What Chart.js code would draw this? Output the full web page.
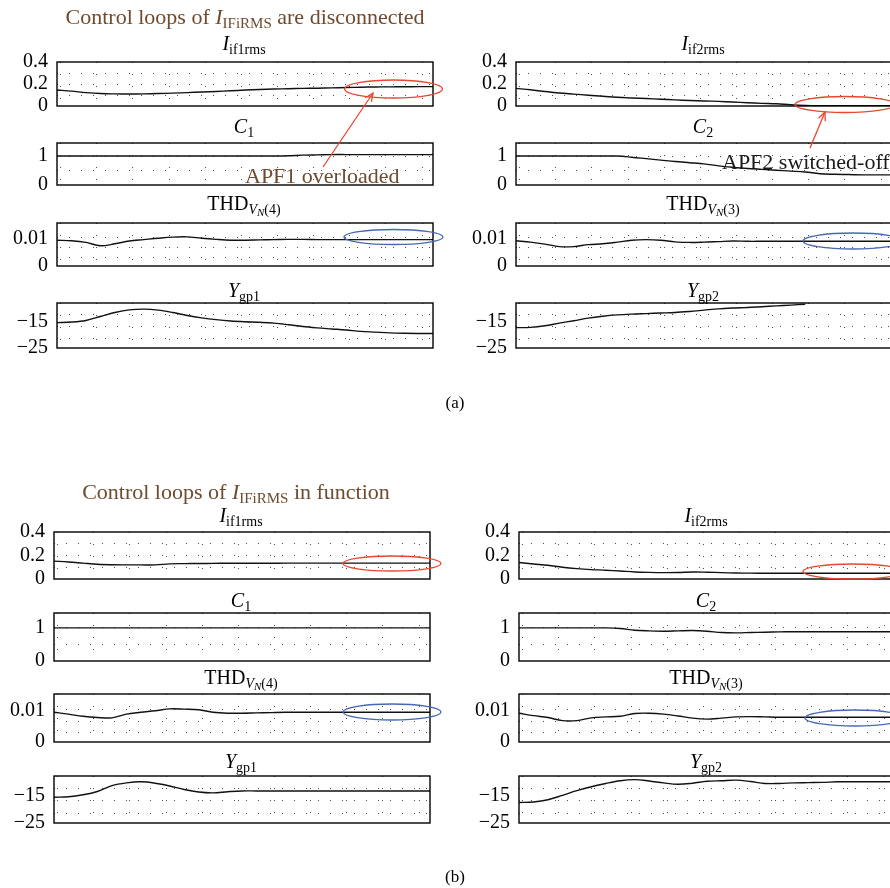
<!DOCTYPE html>
<html>
<head>
<meta charset="utf-8">
<script src="https://cdn.jsdelivr.net/npm/chart.js@4.4.0/dist/chart.umd.min.js"></script>
<style>
  html, body { margin: 0; padding: 0; background: #fff; }
  #page { position: relative; width: 890px; height: 888px; overflow: hidden; }
  .box { position: absolute; }
  #notes { position: absolute; left: 0; top: 0; z-index: 5; }
  #notes text { font-family: "Liberation Serif", "Times New Roman", serif; }
</style>
</head>
<body>
<div id="page"></div>
<script>
// Sample times (same for every trace) and the vertical grid positions.
const times = [0, 0.4, 0.8, 1.2, 1.6, 2.0, 2.4, 2.8, 3.2, 3.6, 4.0, 4.4, 4.8, 5.2,
  5.6, 6.0, 6.4, 6.8, 7.2, 7.6, 8.0, 8.4, 8.8, 9.2, 9.6, 10.0, 10.4];
const gridX = [0.1, 1.1, 2.1, 3.1, 4.1, 5.1, 6.1, 7.1, 8.1, 9.1, 10.1];

// (a) control loops disconnected
const a_if1rms = [0.145, 0.135, 0.122, 0.113, 0.110, 0.109, 0.110, 0.113, 0.117, 0.122, 0.127, 0.132, 0.138, 0.145,
  0.150, 0.154, 0.157, 0.160, 0.162, 0.165, 0.168, 0.171, 0.173, 0.174, 0.175, 0.176, 0.176];
const a_c1 = [1, 1, 1, 1, 1, 1, 1, 1, 1, 1, 1, 1, 1, 1,
  1, 1, 1.01, 1.03, 1.04, 1.05, 1.05, 1.05, 1.05, 1.05, 1.05, 1.05, 1.05];
const a_thd4 = [0.0093, 0.0091, 0.0085, 0.0073, 0.0080, 0.0090, 0.0095, 0.0100, 0.0104, 0.0105, 0.0100, 0.0096, 0.0093, 0.0093,
  0.0094, 0.0095, 0.0096, 0.0096, 0.0095, 0.0095, 0.0095, 0.0095, 0.0095, 0.0095, 0.0095, 0.0095, 0.0095];
const a_ygp1 = [-15.4, -15.2, -14.6, -13.1, -11.6, -10.6, -10.3, -10.7, -11.6, -12.7, -13.6, -14.3, -14.8, -15.1,
  -15.3, -15.6, -16.2, -16.9, -17.4, -17.8, -18.2, -18.7, -19.0, -19.3, -19.45, -19.5, -19.5];
const a_if2rms = [0.160, 0.148, 0.132, 0.118, 0.108, 0.098, 0.088, 0.079, 0.073, 0.068, 0.062, 0.056, 0.050, 0.046,
  0.042, 0.036, 0.030, 0.024, 0.020, 0.012, 0.006, 0.003, 0.002, 0.002, 0.002, 0.002, 0.002];
const a_c2 = [1, 1, 1, 1, 1, 1, 1, 1, 0.96, 0.91, 0.86, 0.81, 0.77, 0.73,
  0.66, 0.61, 0.57, 0.54, 0.51, 0.48, 0.45, 0.39, 0.37, 0.36, 0.35, 0.35, 0.35];
const a_thd3 = [0.0091, 0.0086, 0.0079, 0.0070, 0.0070, 0.0077, 0.0080, 0.0086, 0.0093, 0.0095, 0.0093, 0.0087, 0.0085, 0.0086,
  0.0088, 0.0090, 0.0089, 0.0089, 0.0089, 0.0089, 0.0089, 0.0089, 0.0089, 0.0089, 0.0089, 0.0089, 0.0089];
const a_ygp2 = [-17.3, -17.2, -16.6, -15.6, -14.7, -13.7, -13.0, -12.5, -12.2, -12.0, -11.8, -11.6, -11.2, -10.7,
  -10.2, -9.9, -9.7, -9.4, -9.1, -8.8, -8.45, null, null, null, null, null, null];

// (b) control loops in function
const b_if1rms = [0.152, 0.145, 0.135, 0.125, 0.121, 0.120, 0.120, 0.120, 0.129, 0.131, 0.132, 0.133, 0.134, 0.134,
  0.134, 0.134, 0.135, 0.135, 0.135, 0.135, 0.135, 0.135, 0.135, 0.135, 0.135, 0.135, 0.135];
const b_c1 = [1, 1, 1, 1, 1, 1, 1, 1, 1, 1, 1, 1, 1, 1,
  1, 1, 1, 1, 1, 1, 1, 1, 1, 1, 1, 1, 1];
const b_thd4 = [0.0096, 0.0090, 0.0083, 0.0079, 0.0078, 0.0090, 0.0096, 0.0101, 0.0107, 0.0106, 0.0104, 0.0096, 0.0093, 0.0093,
  0.0094, 0.0095, 0.0096, 0.0096, 0.0096, 0.0096, 0.0096, 0.0096, 0.0096, 0.0096, 0.0096, 0.0096, 0.0096];
const b_ygp1 = [-15.7, -15.5, -14.8, -13.6, -11.5, -10.5, -10.1, -10.6, -11.6, -12.9, -13.8, -14.1, -13.7, -13.4,
  -13.4, -13.4, -13.4, -13.4, -13.4, -13.4, -13.4, -13.4, -13.4, -13.4, -13.4, -13.4, -13.4];
const b_if2rms = [0.140, 0.128, 0.117, 0.100, 0.088, 0.080, 0.075, 0.068, 0.060, 0.056, 0.054, 0.055, 0.060, 0.058,
  0.054, 0.051, 0.050, 0.049, 0.049, 0.049, 0.049, 0.049, 0.049, 0.049, 0.049, 0.049, 0.049];
const b_c2 = [1, 1, 1, 1, 1, 1, 1, 0.98, 0.93, 0.91, 0.90, 0.91, 0.92, 0.90,
  0.86, 0.85, 0.86, 0.87, 0.88, 0.885, 0.885, 0.885, 0.885, 0.885, 0.885, 0.885, 0.885];
const b_thd3 = [0.0093, 0.0085, 0.0079, 0.0069, 0.0069, 0.0078, 0.0081, 0.0083, 0.0092, 0.0093, 0.0090, 0.0084, 0.0077, 0.0074,
  0.0077, 0.0081, 0.0082, 0.0081, 0.0080, 0.0080, 0.0080, 0.0080, 0.0080, 0.0080, 0.0080, 0.0080, 0.0080];
const b_ygp2 = [-17.6, -17.4, -16.6, -15.0, -13.3, -11.9, -10.7, -9.7, -9.3, -9.8, -10.5, -11.0, -10.6, -9.9,
  -9.7, -9.5, -10.0, -10.7, -10.7, -10.5, -10.4, -10.3, -10.1, -10.1, -10.1, -10.1, -10.1];

// y axis setups: range, labelled ticks, dotted rows
const irmsLabels = [0, 0.2, 0.4], irmsRows = [0.1, 0.2, 0.3];
const cLabels = [0, 1], cRows = [0.5, 1];
const thdLabels = [0, 0.01], thdRows = [0.003, 0.0067, 0.0104];
const ygpLabels = [-25, -15], ygpRows = [-21.5, -17, -12.5];

const axes = {
  irms: { min: 0, max: 0.4, labels: irmsLabels, rows: irmsRows },
  c: { min: 0, max: 1.45, labels: cLabels, rows: cRows },
  thd: { min: 0, max: 0.0155, labels: thdLabels, rows: thdRows },
  ygp: { min: -25, max: -8, labels: ygpLabels, rows: ygpRows },
};

Chart.defaults.font.family = '"Liberation Serif", "Times New Roman", serif';
Chart.defaults.font.size = 20;
Chart.defaults.color = "#000";

// PAD_V must stay above half a label height plus the tick padding,
// otherwise Chart.js shrinks the plot area to make room.
const PAD_L = 60, PAD_R = 14, PAD_V = 26;
const DOT = "rgba(0,0,0,0.7)";

// Solid box round the plot area.
const frame = {
  id: "frame",
  afterDatasetsDraw(chart) {
    const { ctx, chartArea: a } = chart;
    ctx.save();
    ctx.strokeStyle = "#000";
    ctx.lineWidth = 1.4;
    ctx.strokeRect(a.left, a.top, a.right - a.left, a.bottom - a.top);
    ctx.restore();
  },
};

function fmt(v) {
  return String(v).replace("-", "\u2212");
}

function makePanel(box, values, ax) {
  const w = box.x1 - box.x0 + PAD_L + PAD_R;
  const h = box.y1 - box.y0 + 2 * PAD_V;
  const wrap = document.createElement("div");
  wrap.className = "box";
  wrap.style.left = box.x0 - PAD_L + "px";
  wrap.style.top = box.y0 - PAD_V + "px";
  const canvas = document.createElement("canvas");
  canvas.width = w;
  canvas.height = h;
  wrap.appendChild(canvas);
  document.getElementById("page").appendChild(wrap);

  const yTicks = [...new Set([ax.min, ax.max, ...ax.labels, ...ax.rows])].sort((p, q) => p - q);

  return new Chart(canvas, {
    type: "line",
    data: {
      datasets: [{
        data: times.map((t, i) => ({ x: t, y: values[i] })),
        borderColor: "#111",
        borderWidth: 1.4,
        pointRadius: 0,
        tension: 0.35,
        spanGaps: false,
      }],
    },
    options: {
      responsive: false,
      animation: false,
      events: [],
      layout: { padding: { top: PAD_V, bottom: PAD_V, left: 0, right: PAD_R } },
      plugins: { legend: { display: false }, tooltip: { enabled: false } },
      scales: {
        x: {
          type: "linear",
          min: 0,
          max: 10.4,
          afterBuildTicks: (s) => { s.ticks = gridX.map((v) => ({ value: v })); },
          ticks: { display: false },
          grid: { drawTicks: false, color: DOT, lineWidth: 1 },
          border: { display: false, dash: [1, 11] },
        },
        y: {
          type: "linear",
          min: ax.min,
          max: ax.max,
          afterBuildTicks: (s) => { s.ticks = yTicks.map((v) => ({ value: v })); },
          afterFit: (s) => { s.width = PAD_L; },
          ticks: {
            autoSkip: false,
            padding: 9,
            callback: (v) => (ax.labels.includes(v) ? fmt(v) : ""),
          },
          grid: {
            drawTicks: false,
            lineWidth: 1,
            color: (c) => (c.tick && ax.rows.includes(c.tick.value) ? DOT : "transparent"),
          },
          border: { display: false, dash: [1, 11] },
        },
      },
    },
    plugins: [frame],
  });
}

// Panel boxes (pixels) for the two halves of the figure.
const colsA = [[57, 433], [516, 892]], rowsA = [[62, 106], [143, 185], [223, 266], [303, 348]];
const colsB = [[54, 430], [519, 895]], rowsB = [[532, 579], [613, 661], [694, 742], [776, 823]];
const kinds = ["irms", "c", "thd", "ygp"];

const seriesA = [[a_if1rms, a_c1, a_thd4, a_ygp1], [a_if2rms, a_c2, a_thd3, a_ygp2]];
const seriesB = [[b_if1rms, b_c1, b_thd4, b_ygp1], [b_if2rms, b_c2, b_thd3, b_ygp2]];

[[colsA, rowsA, seriesA], [colsB, rowsB, seriesB]].forEach(([cols, rows, series]) => {
  cols.forEach((col, ci) => {
    rows.forEach((row, ri) => {
      makePanel({ x0: col[0], x1: col[1], y0: row[0], y1: row[1] }, series[ci][ri], axes[kinds[ri]]);
    });
  });
});

// Titles, captions and the hand drawn marks, in one SVG on top.
const NS = "http://www.w3.org/2000/svg";
const svg = document.createElementNS(NS, "svg");
svg.setAttribute("id", "notes");
svg.setAttribute("width", 890);
svg.setAttribute("height", 888);
document.getElementById("page").appendChild(svg);

function el(name, attrs, parent) {
  const e = document.createElementNS(NS, name);
  for (const k in attrs) e.setAttribute(k, attrs[k]);
  (parent || svg).appendChild(e);
  return e;
}

// parts: [text, {size, dy, italic}]
function label(x, y, size, fill, parts, anchor) {
  const t = el("text", { x, y, "font-size": size, fill, "text-anchor": anchor || "middle" });
  parts.forEach(([s, o]) => {
    const ts = el("tspan", {}, t);
    if (o && o.size) ts.setAttribute("font-size", o.size);
    if (o && o.dy) ts.setAttribute("dy", o.dy);
    if (o && o.italic) ts.setAttribute("font-style", "italic");
    ts.textContent = s;
  });
  return t;
}

const BROWN = "#6e4a2e", RED = "#e8472f", BLUE = "#4568b3";

function titleParts(kind, n) {
  if (kind === "irms") return [["I", { italic: true }], ["if" + n + "rms", { size: 14, dy: 4 }]];
  if (kind === "c") return [["C", { italic: true }], [String(n), { size: 14, dy: 4 }]];
  if (kind === "thd") {
    const k = n === 1 ? "4" : "3";
    return [["THD", {}], ["V", { size: 14, dy: 4, italic: true }], ["N", { size: 11, dy: 2, italic: true }], ["(" + k + ")", { size: 14, dy: -2 }]];
  }
  return [["Y", { italic: true }], ["gp" + n, { size: 14, dy: 4 }]];
}

const titleBase = [[50, 133, 210, 297], [522, 607, 684, 768]];
[[colsA, 0], [colsB, 1]].forEach(([cols, si]) => {
  cols.forEach((col, ci) => {
    const cx = (col[0] + col[1]) / 2 - 1;
    kinds.forEach((k, ri) => label(cx, titleBase[si][ri], 20, "#000", titleParts(k, ci + 1)));
  });
});

label(245, 24, 22, BROWN, [["Control loops of "], ["I", { italic: true }], ["IFiRMS", { size: 15, dy: 4 }], [" are disconnected", { dy: -4 }]]);
label(236, 499, 22, BROWN, [["Control loops of "], ["I", { italic: true }], ["IFiRMS", { size: 15, dy: 4 }], [" in function", { dy: -4 }]]);
label(455, 408, 17, "#000", [["(a)"]]);
label(455, 882, 17, "#000", [["(b)"]]);

// ellipses round the steady state part
[[393.5, 89, 49, 9, RED], [845, 104.5, 50, 8, RED], [393.5, 237, 49.5, 7.5, BLUE], [853, 241, 50, 8, BLUE],
 [392, 563.5, 49, 7.5, RED], [853, 571.5, 50, 7.5, RED], [392, 712, 49, 8, BLUE], [855, 718, 50, 8, BLUE]]
  .forEach(([cx, cy, rx, ry, c]) => el("ellipse", { cx, cy, rx, ry, fill: "none", stroke: c, "stroke-width": 1.3 }));

function arrow(x1, y1, x2, y2) {
  el("line", { x1, y1, x2, y2, stroke: RED, "stroke-width": 1.3 });
  const a = Math.atan2(y2 - y1, x2 - x1), L = 9, s = 0.42;
  const p1 = [x2 - L * Math.cos(a - s), y2 - L * Math.sin(a - s)];
  const p2 = [x2 - L * Math.cos(a + s), y2 - L * Math.sin(a + s)];
  el("path", { d: `M${p1[0]},${p1[1]} L${x2},${y2} L${p2[0]},${p2[1]}`, fill: "none", stroke: RED, "stroke-width": 1.3 });
}
arrow(323, 167, 373, 93);
arrow(810, 148, 825, 112);

label(245, 183, 22, BROWN, [["APF1 overloaded"]], "start");
label(722, 169, 22, "#1a1a1a", [["APF2 switched-off"]], "start");
</script>
</body>
</html>
